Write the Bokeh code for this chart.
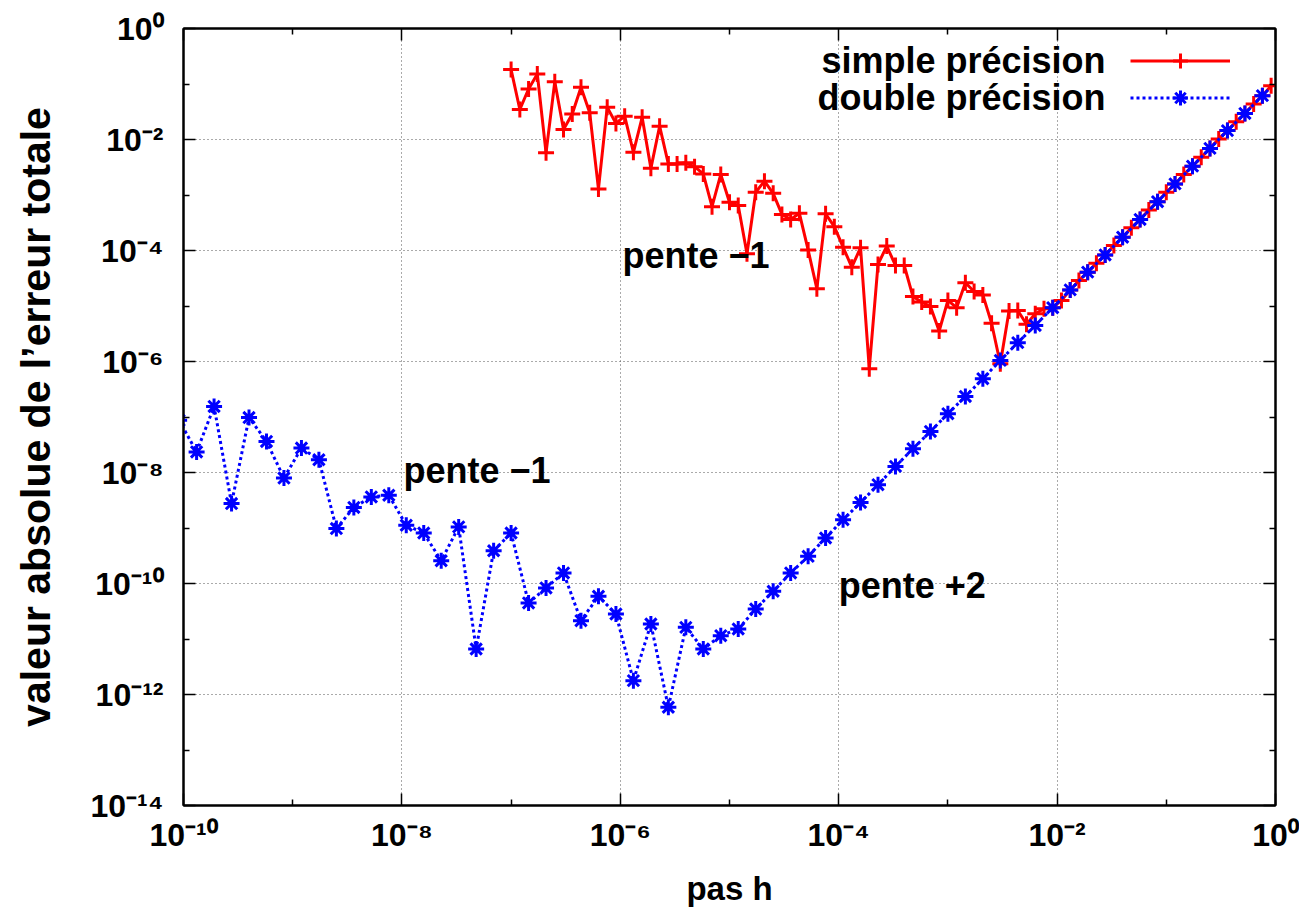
import numpy as np
from bokeh.plotting import figure
from bokeh.models import LogAxis, FixedTicker, Label, Legend, LegendItem, Range1d
from bokeh.embed import file_html
from bokeh.resources import INLINE

# ---- data (log10 values) ----
log_h_simple = [
    -7.00, -6.92, -6.84, -6.76, -6.68, -6.60, -6.52, -6.44, -6.36, -6.28,
    -6.20, -6.12, -6.04, -5.96, -5.88, -5.80, -5.72, -5.64, -5.56, -5.48,
    -5.40, -5.32, -5.24, -5.16, -5.08, -5.00, -4.92, -4.84, -4.76, -4.68,
    -4.60, -4.52, -4.44, -4.36, -4.28, -4.20, -4.12, -4.04, -3.96, -3.88,
    -3.80, -3.72, -3.64, -3.56, -3.48, -3.40, -3.32, -3.24, -3.16, -3.08,
    -3.00, -2.92, -2.84, -2.76, -2.68, -2.60, -2.52, -2.44, -2.36, -2.28,
    -2.20, -2.12, -2.04, -1.96, -1.88, -1.80, -1.72, -1.64, -1.56, -1.48,
    -1.40, -1.32, -1.24, -1.16, -1.08, -1.00, -0.92, -0.84, -0.76, -0.68,
    -0.60, -0.52, -0.44, -0.36, -0.28, -0.20, -0.12, -0.04]
log_err_simple = [
    -0.74, -1.46, -1.09, -0.82, -2.24, -0.96, -1.82, -1.54, -1.06, -1.52,
    -2.89, -1.42, -1.71, -1.58, -2.23, -1.60, -2.52, -1.76, -2.44, -2.44,
    -2.42, -2.49, -2.62, -3.21, -2.63, -3.13, -3.19, -4.06, -2.95, -2.75,
    -2.97, -3.35, -3.44, -3.33, -3.99, -4.69, -3.34, -3.57, -3.94, -4.30,
    -3.95, -6.13, -4.25, -3.92, -4.27, -4.27, -4.83, -4.93, -5.01, -5.45,
    -4.90, -5.03, -4.58, -4.74, -4.80, -5.31, -6.04, -5.09, -5.08, -5.33,
    -5.14, -5.05, -5.03, -4.90, -4.71, -4.54, -4.39, -4.23, -4.08, -3.91,
    -3.76, -3.59, -3.44, -3.27, -3.12, -2.95, -2.80, -2.63, -2.48, -2.32,
    -2.16, -1.99, -1.84, -1.68, -1.53, -1.36, -1.21, -1.03]

log_h_double = [
    -10.04, -9.88, -9.72, -9.56, -9.40, -9.24, -9.08, -8.92, -8.76, -8.60,
    -8.44, -8.28, -8.12, -7.96, -7.80, -7.64, -7.48, -7.32, -7.16, -7.00,
    -6.84, -6.68, -6.52, -6.36, -6.20, -6.04, -5.88, -5.72, -5.56, -5.40,
    -5.24, -5.08, -4.92, -4.76, -4.60, -4.44, -4.28, -4.12, -3.96, -3.80,
    -3.64, -3.48, -3.32, -3.16, -3.00, -2.84, -2.68, -2.52, -2.36, -2.20,
    -2.04, -1.88, -1.72, -1.56, -1.40, -1.24, -1.08, -0.92, -0.76, -0.60,
    -0.44, -0.28, -0.12]
log_err_double = [
    -7.06, -7.63, -6.81, -8.56, -7.01, -7.44, -8.10, -7.56, -7.77, -9.01,
    -8.63, -8.44, -8.41, -8.95, -9.09, -9.59, -8.98, -11.18, -9.41, -9.09,
    -10.35, -10.08, -9.81, -10.67, -10.23, -10.55, -11.75, -10.73, -12.23, -10.79,
    -11.18, -10.94, -10.82, -10.46, -10.14, -9.81, -9.51, -9.18, -8.85, -8.54,
    -8.22, -7.89, -7.57, -7.26, -6.94, -6.63, -6.31, -5.98, -5.66, -5.35,
    -5.03, -4.71, -4.39, -4.08, -3.76, -3.44, -3.12, -2.80, -2.48, -2.16,
    -1.84, -1.53, -1.21]

x_ticks = [1e-10, 1e-8, 1e-6, 1e-4, 1e-2, 1e0]
x_minor = [1e-9, 1e-7, 1e-5, 1e-3, 1e-1]
x_labels = ["10\u207b\u00b9\u2070", "10\u207b\u2078", "10\u207b\u2076",
            "10\u207b\u2074", "10\u207b\u00b2", "10\u2070"]
y_ticks = [1e-14, 1e-12, 1e-10, 1e-8, 1e-6, 1e-4, 1e-2, 1e0]
y_minor = [1e-13, 1e-11, 1e-9, 1e-7, 1e-5, 1e-3, 1e-1]
y_labels = ["10\u207b\u00b9\u2074", "10\u207b\u00b9\u00b2", "10\u207b\u00b9\u2070",
            "10\u207b\u2078", "10\u207b\u2076", "10\u207b\u2074", "10\u207b\u00b2", "10\u2070"]

series_names = ["simple pr\u00e9cision", "double pr\u00e9cision"]

h_s = 10 ** np.array(log_h_simple)
e_s = 10 ** np.array(log_err_simple)
h_d = 10 ** np.array(log_h_double)
e_d = 10 ** np.array(log_err_double)

FONT = "Liberation Sans"

p = figure(width=1299, height=911, x_axis_type="log", y_axis_type="log",
           x_range=Range1d(1e-10, 1.0), y_range=Range1d(1e-14, 1.0),
           output_backend="svg", toolbar_location=None,
           min_border_left=183, min_border_right=24, min_border_top=28,
           min_border_bottom=106)
p.background_fill_color = "white"
p.border_fill_color = "white"
p.outline_line_color = "black"
p.outline_line_width = 2


def style_axis(ax, show_labels):
    ax.axis_line_width = 2
    ax.axis_line_color = "black"
    ax.major_tick_in = 12
    ax.major_tick_out = 0
    ax.minor_tick_in = 6
    ax.minor_tick_out = 0
    ax.major_tick_line_width = 1.5
    ax.minor_tick_line_width = 1.5
    ax.major_tick_line_color = "black"
    ax.minor_tick_line_color = "black"
    if show_labels:
        ax.major_label_text_font = FONT
        ax.major_label_text_font_style = "bold"
        ax.major_label_text_font_size = "32px"
        ax.major_label_text_color = "black"
        ax.axis_label_text_font = FONT
        ax.axis_label_text_font_style = "bold"
        ax.axis_label_text_color = "black"
    else:
        ax.major_label_text_font_size = "2px"
        ax.major_label_text_color = None
        ax.major_label_standoff = 0


xa = p.xaxis[0]
xa.ticker = FixedTicker(ticks=x_ticks, minor_ticks=x_minor)
xa.major_label_overrides = {t: l for t, l in zip(x_ticks, x_labels)}
style_axis(xa, True)
xa.axis_label = "pas h"
xa.axis_label_text_font_size = "33px"
xa.major_label_standoff = 11
xa.axis_label_standoff = 14

ya = p.yaxis[0]
ya.ticker = FixedTicker(ticks=y_ticks, minor_ticks=y_minor)
ya.major_label_overrides = {t: l for t, l in zip(y_ticks, y_labels)}
style_axis(ya, True)
ya.axis_label = "valeur absolue de l\u2019erreur totale"
ya.axis_label_text_font_size = "41px"
ya.major_label_standoff = 20
ya.axis_label_standoff = 28

top = LogAxis(ticker=FixedTicker(ticks=x_ticks, minor_ticks=x_minor))
style_axis(top, False)
p.add_layout(top, "above")
right = LogAxis(ticker=FixedTicker(ticks=y_ticks, minor_ticks=y_minor))
style_axis(right, False)
p.add_layout(right, "right")

for g in (p.xgrid[0], p.ygrid[0]):
    g.grid_line_color = "#555555"
    g.grid_line_dash = "1 3"
    g.grid_line_width = 1
p.xgrid[0].ticker = FixedTicker(ticks=x_ticks)
p.ygrid[0].ticker = FixedTicker(ticks=y_ticks)

rl = p.line(h_s, e_s, line_color="#ff0000", line_width=3)
rs = p.scatter(h_s, e_s, marker="cross", size=16, line_color="#ff0000", line_width=3)
bl = p.line(h_d, e_d, line_color="#0000ff", line_width=3, line_dash="3 3")
bs = p.scatter(h_d, e_d, marker="asterisk", size=16, line_color="#0000ff", line_width=3)

legend = Legend(items=[LegendItem(label=" ", renderers=[rl, rs]),
                       LegendItem(label=" ", renderers=[bl, bs])],
                location=(947, 689), glyph_width=100, glyph_height=37,
                label_width=2, label_standoff=0, padding=0, margin=0, spacing=0,
                border_line_color=None, background_fill_color=None,
                background_fill_alpha=0, label_text_font_size="10px",
                label_text_color=None)
p.add_layout(legend)

# legend texts (right aligned, left of the samples)
for name, yy in zip(series_names, [10 ** -0.577, 10 ** -1.25]):
    p.add_layout(Label(x=10 ** -1.557, y=yy, text=name, text_align="right",
                       text_baseline="middle", text_font=FONT, text_font_style="bold",
                       text_font_size="36px", text_color="black"))

annotations = [("pente \u22121", 10 ** -5.98, 10 ** -4.09),
               ("pente \u22121", 10 ** -7.985, 10 ** -7.96),
               ("pente +2", 10 ** -4.0, 10 ** -10.04)]
for txt, ax_, ay_ in annotations:
    p.add_layout(Label(x=ax_, y=ay_, text=txt, text_align="left", text_baseline="middle",
                       text_font=FONT, text_font_style="bold", text_font_size="36px",
                       text_color="black"))

open("out.html", "w").write(file_html(p, INLINE))
